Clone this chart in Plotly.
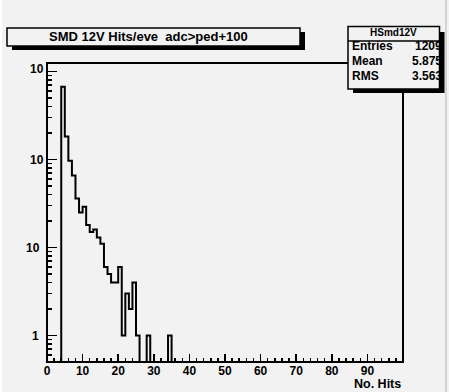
import plotly.graph_objects as go
import math

# ---------------- data ----------------
bin_edges = list(range(0, 101))            # 100 bins of width 1 from 0 to 100
counts = [0, 0, 0, 0, 670, 182, 97, 66, 36, 25,
          29, 18, 15, 16, 13, 11, 6, 5, 4, 4,
          6, 1, 3, 2, 4, 1, 0, 0, 1, 0,
          0, 0, 0, 0, 1] + [0] * 65

x_tick_vals = [0, 10, 20, 30, 40, 50, 60, 70, 80, 90]
x_tick_text = ["0", "10", "20", "30", "40", "50", "60", "70", "80", "90"]
y_tick_vals = [1, 10, 100, 1000]
y_tick_text = ["1", "10", "10", "10"]

title_text = "SMD 12V Hits/eve\u00a0 adc>ped+100"
x_title = "No. Hits"
stats_name = "HSmd12V"
stats_labels = ["Entries", "Mean", "RMS"]
stats_values = ["1209", "5.875", "3.563"]

# ---------------- layout geometry ----------------
FIG_W, FIG_H = 449, 392
L, R, T, B = 47, 46, 63, 30
PW, PH = FIG_W - L - R, FIG_H - T - B
Y_MIN = 0.5
DECADE_PX = 88.0
y_range = [math.log10(Y_MIN), math.log10(Y_MIN) + PH / DECADE_PX]

BG = "#f2f2f2"
FONT = "Liberation Sans"


def px(x):
    return (x - L) / PW


def py(y):
    return (FIG_H - B - y) / PH


# histogram contour (empty bins drawn along the bottom of the frame)
floor_val = 10 ** y_range[0]
hx = bin_edges
hy = [c if c > 0 else floor_val for c in counts] + [counts[-1] if counts[-1] > 0 else floor_val]

fig = go.Figure()
fig.add_trace(go.Scatter(
    x=hx, y=hy, mode="lines", line=dict(color="black", width=2, shape="hv"),
    hoverinfo="skip", showlegend=False))

minor_y = [m * 10 ** d for d in range(-1, 4) for m in range(2, 10)
           if 10 ** y_range[0] <= m * 10 ** d <= 10 ** y_range[1]]

shapes = []
# frame
shapes.append(dict(type="rect", xref="paper", yref="paper", x0=0, x1=1, y0=0, y1=1,
                   line=dict(color="black", width=2), layer="above"))
# title box with shadow
shapes.append(dict(type="rect", xref="paper", yref="paper",
                   x0=px(12), x1=px(305), y0=py(32), y1=py(50),
                   fillcolor="black", line=dict(width=0), layer="above"))
shapes.append(dict(type="rect", xref="paper", yref="paper",
                   x0=px(7), x1=px(300), y0=py(28), y1=py(46),
                   fillcolor=BG, line=dict(color="black", width=1.5), layer="above"))
# stats box with shadow
shapes.append(dict(type="rect", xref="paper", yref="paper",
                   x0=px(353), x1=px(444.5), y0=py(32), y1=py(93),
                   fillcolor="black", line=dict(width=0), layer="above"))
shapes.append(dict(type="rect", xref="paper", yref="paper",
                   x0=px(348), x1=px(439.5), y0=py(26.5), y1=py(89),
                   fillcolor=BG, line=dict(color="black", width=1.5), layer="above"))
shapes.append(dict(type="line", xref="paper", yref="paper",
                   x0=px(348), x1=px(439.5), y0=py(41), y1=py(41),
                   line=dict(color="black", width=1.5), layer="above"))
# canvas borders
shapes.append(dict(type="line", xref="paper", yref="paper",
                   x0=px(446), x1=px(446), y0=py(0), y1=py(392),
                   line=dict(color="#c8c8c8", width=1.5), layer="above"))
shapes.append(dict(type="line", xref="paper", yref="paper",
                   x0=px(1), x1=px(1), y0=py(0), y1=py(392),
                   line=dict(color="#ffffff", width=2), layer="above"))

annotations = []
annotations.append(dict(text=title_text, xref="paper", yref="paper",
                        x=px(148), y=py(36), xanchor="center", yanchor="middle",
                        showarrow=False, font=dict(family=FONT, size=13, color="black", weight="bold")))
annotations.append(dict(text=x_title, xref="paper", yref="paper",
                        x=px(403), y=py(384), xanchor="right", yanchor="middle",
                        showarrow=False, font=dict(family=FONT, size=12.5, color="black", weight="bold")))
annotations.append(dict(text=stats_name, xref="paper", yref="paper",
                        x=px(393.5), y=py(32), xanchor="center", yanchor="middle",
                        showarrow=False, font=dict(family=FONT, size=10, color="black", weight="bold")))
stat_rows_y = [46.5, 61.5, 76]
for lab, val, yy in zip(stats_labels, stats_values, stat_rows_y):
    annotations.append(dict(text=lab, xref="paper", yref="paper",
                            x=px(349.5), y=py(yy), xanchor="left", yanchor="middle",
                            showarrow=False, font=dict(family=FONT, size=12, color="black", weight="bold")))
    annotations.append(dict(text=val, xref="paper", yref="paper",
                            x=px(444), y=py(yy), xanchor="right", yanchor="middle",
                            showarrow=False, font=dict(family=FONT, size=12, color="black", weight="bold")))
# y tick labels (ROOT style)
y_label_xshift = [-6, -5, -1, -1]
y_label_yshift = [0, 0, 0, 3]
for v, t, xs, ys in zip(y_tick_vals, y_tick_text, y_label_xshift, y_label_yshift):
    annotations.append(dict(text=t, xref="paper", yref="y", x=0, y=math.log10(v),
                            xanchor="right", yanchor="middle", xshift=xs, yshift=ys,
                            showarrow=False, font=dict(family=FONT, size=12, color="black", weight="bold")))

fig.update_layout(
    width=FIG_W, height=FIG_H,
    margin=dict(l=L, r=R, t=T, b=B, pad=0),
    paper_bgcolor=BG, plot_bgcolor=BG,
    showlegend=False,
    shapes=shapes,
    annotations=annotations,
    xaxis=dict(range=[0, 100], showgrid=False, zeroline=False, showline=False,
               tickmode="array", tickvals=x_tick_vals, ticktext=x_tick_text,
               ticks="inside", ticklen=8, tickwidth=1.5, tickcolor="black",
               tickfont=dict(family=FONT, size=12, color="black", weight="bold"),
               minor=dict(dtick=2, ticks="inside", ticklen=4, tickwidth=1.5, tickcolor="black", showgrid=False)),
    yaxis=dict(type="log", range=y_range, showgrid=False, zeroline=False, showline=False,
               tickmode="array", tickvals=y_tick_vals, showticklabels=False,
               ticks="inside", ticklen=10, tickwidth=1.5, tickcolor="black",
               minor=dict(tickvals=minor_y, ticks="inside", ticklen=5, tickwidth=1.5, tickcolor="black", showgrid=False)),
)

fig.write_html(
    "out.html",
    config={"displayModeBar": False, "staticPlot": True},
    post_script="document.body.style.margin='0px';document.body.style.padding='0px';"
                "document.body.style.overflow='hidden';document.body.style.background='" + BG + "';",
)
